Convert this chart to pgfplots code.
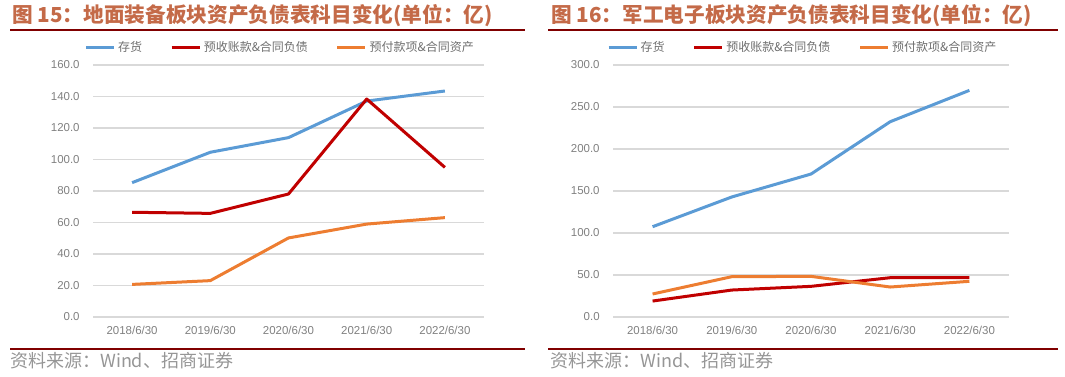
\documentclass[border=0pt]{standalone}
\usepackage{pgfplots}
\pgfplotsset{compat=1.18}
\usepackage{fontspec}
\setmainfont{Liberation Sans}
\newfontfamily\cjk{Noto Sans CJK SC}
\definecolor{cblue}{RGB}{91,155,213}
\definecolor{cred}{RGB}{192,0,0}
\definecolor{corange}{RGB}{237,125,49}
\definecolor{ttl}{RGB}{196,106,72}
\definecolor{rulec}{RGB}{128,0,0}
\definecolor{tickc}{RGB}{128,128,128}
\definecolor{legc}{RGB}{110,110,110}
\definecolor{srcc}{RGB}{150,150,150}
\definecolor{grd}{RGB}{217,217,217}
\pgfplotsset{
  mystyle/.style={
    scale only axis,
    height=189pt,
    xmin=-0.5, xmax=4.5, ymin=0,
    xtick={0,1,2,3,4},
    xticklabels={2018/6/30,2019/6/30,2020/6/30,2021/6/30,2022/6/30},
    axis x line*=bottom, axis y line*=left,
    axis line style={draw=none},
    major tick length=0pt,
    ymajorgrids,
    grid style={grd, line width=0.8pt},
    tick label style={font=\fontsize{8.6}{10}\selectfont, text=tickc},
    /pgf/number format/assume math mode=true,
    yticklabel={\pgfmathprintnumber[fixed,fixed zerofill,precision=1]{\tick}},
    yticklabel shift=6.5pt,
    xticklabel shift=3pt,
    legend columns=3,
    legend style={draw=none, fill=none, at={(0.5,1)}, anchor=center, yshift=13.5pt, xshift=-6pt,
      font=\cjk\fontsize{9}{11}\selectfont, text=legc,
      /tikz/every even column/.append style={column sep=19pt},
      inner sep=0pt},
    legend image code/.code={\draw[##1, line width=2.25pt] (0pt,0pt) -- (21pt,0pt);},
    every axis plot/.append style={line width=2.25pt, line join=round, mark=none},
  }
}
\begin{document}
\begin{tikzpicture}
\useasboundingbox (0pt,0pt) rectangle (798.75pt,-282pt);
% titles and rules
\node[anchor=west, inner sep=0pt, text=ttl, font=\cjk\bfseries\fontsize{15.5}{18}\selectfont] at (9pt,-12pt) {图 15：地面装备板块资产负债表科目变化(单位：亿)};
\node[anchor=west, inner sep=0pt, text=ttl, font=\cjk\bfseries\fontsize{15.5}{18}\selectfont] at (413.25pt,-12pt) {图 16：军工电子板块资产负债表科目变化(单位：亿)};
\draw[rulec, line width=1.5pt] (7.5pt,-22.5pt) -- (393.75pt,-22.5pt);
\draw[rulec, line width=1.5pt] (411pt,-22.5pt) -- (793.5pt,-22.5pt);
\draw[rulec, line width=1.5pt] (7.5pt,-261.75pt) -- (393.75pt,-261.75pt);
\draw[rulec, line width=1.5pt] (411pt,-261.75pt) -- (793.5pt,-261.75pt);
\node[anchor=west, inner sep=0pt, text=srcc, font=\cjk\fontsize{13.5}{15}\selectfont] at (7.5pt,-270.75pt) {资料来源：Wind、招商证券};
\node[anchor=west, inner sep=0pt, text=srcc, font=\cjk\fontsize{13.5}{15}\selectfont] at (412.5pt,-270.75pt) {资料来源：Wind、招商证券};

\begin{axis}[mystyle, width=293.25pt, ymax=160, ytick={0,20,...,160},
  at={(69.75pt,-237.75pt)}, anchor=south west]
\addplot[cblue] coordinates {(0,85.3) (1,104.6) (2,113.9) (3,137.1) (4,143.5)};
\addlegendentry{存货}
\addplot[cred] coordinates {(0,66.5) (1,65.8) (2,78.1) (3,138.4) (4,95.0)};
\addlegendentry{预收账款\&合同负债}
\addplot[corange] coordinates {(0,20.7) (1,23.1) (2,50.2) (3,59.0) (4,63.1)};
\addlegendentry{预付款项\&合同资产}
\end{axis}

\begin{axis}[mystyle, width=297pt, ymax=300, ytick={0,50,...,300},
  at={(459.75pt,-237.75pt)}, anchor=south west]
\addplot[cblue] coordinates {(0,107.5) (1,142.9) (2,170.2) (3,232.5) (4,269.8)};
\addlegendentry{存货}
\addplot[cred] coordinates {(0,19.0) (1,32.1) (2,36.5) (3,46.8) (4,46.8)};
\addlegendentry{预收账款\&合同负债}
\addplot[corange] coordinates {(0,27.4) (1,48.0) (2,48.4) (3,35.7) (4,42.5)};
\addlegendentry{预付款项\&合同资产}
\end{axis}
\end{tikzpicture}
\end{document}
